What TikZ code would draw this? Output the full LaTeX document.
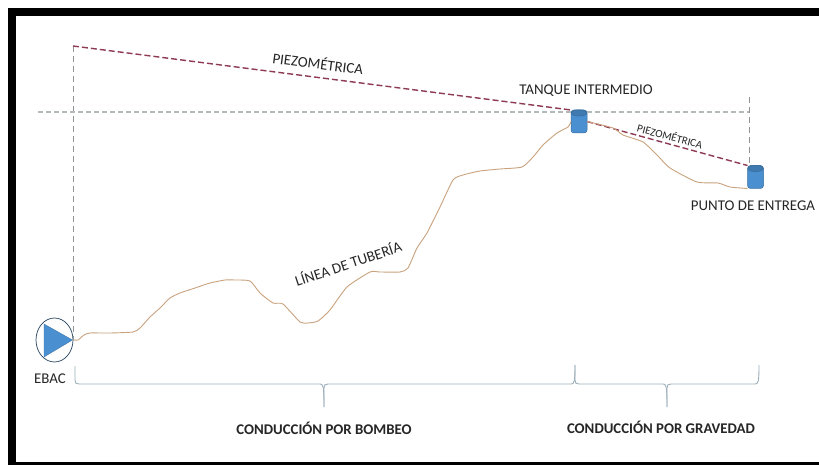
\documentclass[tikz,border=0pt]{standalone}
\usepackage{fontspec}
\setmainfont{Carlito}
\usetikzlibrary{shapes.geometric}
\definecolor{tankblue}{HTML}{4A8FD0}
\definecolor{tankedge}{HTML}{3A6E9E}
\definecolor{piperust}{HTML}{C9A27E}
\definecolor{piezored}{HTML}{8E3A52}
\definecolor{guidegrey}{HTML}{B4B9BC}
\definecolor{bracegrey}{HTML}{9DB0BC}
\tikzset{
  x=1pt,y=-1pt,
  frameband/.style={fill=black,draw=none},
  guide/.style={draw=guidegrey,line width=1.5pt,dash pattern=on 5pt off 3pt},
  guidethin/.style={draw=guidegrey!80!black,line width=.8pt,dash pattern=on 6pt off 4pt},
  piezo/.style={draw=piezored,line width=1.4pt,dash pattern=on 6pt off 3pt},
  pipe/.style={draw=piperust,line width=.9pt,line join=round},
  bracket/.style={draw=bracegrey,line width=.9pt,line join=round},
  tank/.style={rectangle,rounded corners=3pt,draw=tankedge,fill=tankblue,minimum width=16pt,minimum height=23pt,inner sep=0pt,outer sep=0pt,line width=.5pt},
  tanktop/.style={draw=tankedge,fill=tankblue!85!black,line width=.5pt},
  label/.style={font=\fontsize{14.9}{17}\selectfont,text=black!85,inner sep=0pt},
  boldlabel/.style={font=\fontsize{14.8}{17}\selectfont\bfseries,text=black!85,inner sep=0pt},
}
\begin{document}
\begin{tikzpicture}
\useasboundingbox (0,0) rectangle (819,465);
\fill[white] (0,0) rectangle (819,465);
\fill[frameband] (8,8) rectangle (819,16);
\fill[frameband] (8,8) rectangle (16,465);
\fill[frameband] (8,462) rectangle (819,465);
% guide lines
\coordinate (topstart) at (73,46);
\coordinate (hstart) at (38,112);
\coordinate (vtop) at (749,97);
\node[tank] (tankA) at (579,121.5) {};
\node[tank] (tankB) at (755.5,177) {};
\fill[tanktop] (tankA.north) ++(0,3) ellipse (7.5pt and 3pt);
\fill[tanktop] (tankB.north) ++(0,3) ellipse (7.5pt and 3pt);
\draw[tanktop] (tankA.north) ++(0,3) ellipse (7.5pt and 3pt);
\draw[tanktop] (tankB.north) ++(0,3) ellipse (7.5pt and 3pt);
\node[ellipse,draw=tankedge!60!black,fill=white,line width=.7pt,minimum width=37pt,minimum height=44pt,inner sep=0pt,outer sep=0pt] (pump) at (54.5,340) {};
\fill[tankblue,draw=tankblue!80!black,line width=.3pt] (44,324) -- (72.5,340) -- (44,357) -- cycle;
\draw[guidethin] (topstart) -- (pump.east);
\draw[guide] (hstart) -- (tankA.west |- hstart);
\draw[guide] (tankA.east |- hstart) -- (vtop |- hstart);
\draw[guidethin] (vtop) -- (vtop |- tankB.north);
% piezometric lines
\draw[piezo] (topstart) -- (tankA.north west);
\draw[piezo] (tankA.east) -- (tankB.north west);
% pipeline
\draw[pipe] plot[smooth,tension=.35] coordinates {(pump.east) (78,340) (84,335) (90,333) (110,333) (133,332) (140,328) (150,317) (160,308) (170,298) (180,293) (195,288) (210,283) (225,280) (235,280) (250,281) (260,293) (273,303) (283,304) (300,322) (308,323) (318,321) (330,310) (347,287) (370,272) (380,272) (400,272) (408,268) (417,248) (427,233) (440,207) (453,180) (463,175) (480,171) (500,169) (522,167) (533,157) (543,145) (557,133) (568,127) (tankA.west)};
\draw[pipe] plot[smooth,tension=.35] coordinates {(tankA.east) (613,128) (623,135) (643,142) (657,155) (670,168) (697,182) (718,183) (730,187) (tankB.south west)};
% braces
\coordinate (b1) at (75,366);
\coordinate (b2) at (575,365);
\coordinate (b3) at (759,365);
\coordinate (t1) at (324,407);
\coordinate (t2) at (667,407);
\draw[bracket] (b1) -- (75,380) .. controls (75,383) and (76,384) .. (79,384) -- (320,384) .. controls (323,384) and (324,385) .. (t1);
\draw[bracket] (t1) -- (324,388) .. controls (324,385) and (325,384) .. (328,384) -- (571,384) .. controls (574,384) and (575,383) .. (b2);
\draw[bracket] (b2) -- (575,380) .. controls (575,383) and (576,384) .. (579,384) -- (663,384) .. controls (666,384) and (667,385) .. (t2);
\draw[bracket] (t2) -- (667,388) .. controls (667,385) and (668,384) .. (671,384) -- (755,384) .. controls (758,384) and (759,383) .. (b3);
% labels
\node[label,rotate=-7.4] (lblP1) at (318,63) {PIEZOMÉTRICA};
\node[label,font=\fontsize{11}{13}\selectfont,rotate=-15] (lblP2) at (670,136) {PIEZOMÉTRICA};
\node[label] (lblT) at (586,91) {TANQUE INTERMEDIO};
\node[label] (lblE) at (753,206) {PUNTO DE ENTREGA};
\node[label,rotate=18.5] (lblL) at (348,263) {LÍNEA DE TUBERÍA};
\node[label] (lblEBAC) at (50,379) {EBAC};
\node[boldlabel] (lblB) at (324,428) {CONDUCCIÓN POR BOMBEO};
\node[boldlabel] (lblG) at (661,427) {CONDUCCIÓN POR GRAVEDAD};
\end{tikzpicture}
\end{document}
